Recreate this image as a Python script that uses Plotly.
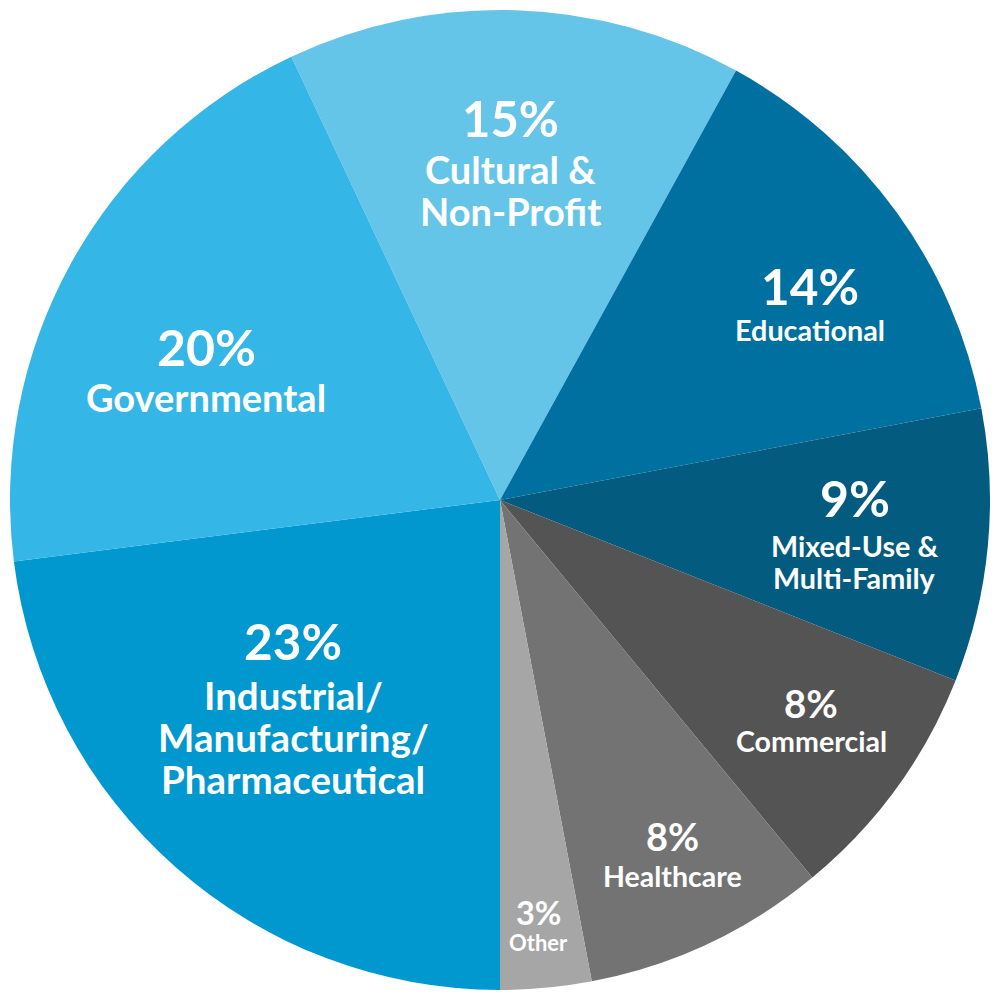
import math
import plotly.graph_objects as go

# ---- data ----
categories = ["Cultural &<br>Non-Profit", "Educational", "Mixed-Use &<br>Multi-Family",
              "Commercial", "Healthcare", "Other",
              "Industrial/<br>Manufacturing/<br>Pharmaceutical", "Governmental"]
values = [15, 14, 9, 8, 8, 3, 23, 20]
pct_labels = ["15%", "14%", "9%", "8%", "8%", "3%", "23%", "20%"]

# ---- style ----
colors = ["#64c5e8", "#0070a0", "#035b80", "#545454", "#737373", "#a6a6a6", "#0098ce", "#34b6e6"]
rotation = -25.2
pct_sizes = [49, 49.5, 50, 38.5, 38, 32.5, 49.5, 50]
name_sizes = [38, 28.8, 28.7, 28.6, 28.5, 22, 38.5, 38]
label_radius = [0.78, 0.769, 0.724, 0.758, 0.771, 0.845, 0.511, 0.676]   # radius of % line centre
angle_nudge = [-0.3, 1.4, -5.7, -2.9, -2.0, 0.0, 14.3, -1.3]
pct_gap = [51, 44, 48, 38, 40, 30, 54, 50]        # px from % centre to first name line
line_step = [42, 0, 32, 0, 0, 0, 42, 0]           # px between name lines
FONT = "Lato"

fig = go.Figure(go.Pie(
    labels=categories, values=values, sort=False, direction="clockwise",
    rotation=rotation, marker=dict(colors=colors, line=dict(width=0)),
    textinfo="none", hoverinfo="label+percent", showlegend=False,
))

W = H = 1000
PLOT = 980           # plot area size
R = PLOT / 2
total = sum(values)


def txt(dx, dy, text, size):
    return dict(x=0.5 + dx / PLOT, y=0.5 - dy / PLOT, xref="paper", yref="paper",
                text=text, showarrow=False, xanchor="center", yanchor="middle",
                font=dict(family=FONT, size=size, color="white", weight="bold"))


ann = []
cum = 0
for i, v in enumerate(values):
    mid = rotation + (cum + v / 2) / total * 360 + angle_nudge[i]
    cum += v
    th = math.radians(mid)
    r = label_radius[i] * R
    dx = r * math.sin(th)
    dy = -r * math.cos(th)
    ann.append(txt(dx, dy, pct_labels[i], pct_sizes[i]))
    for j, line in enumerate(categories[i].split("<br>")):
        ann.append(txt(dx, dy + pct_gap[i] + j * line_step[i], line, name_sizes[i]))

# page has an 8px body margin: offset the plot area so the pie sits centred on the page
fig.update_layout(
    width=W, height=H, margin=dict(l=2, r=18, t=2, b=18),
    paper_bgcolor="white", plot_bgcolor="white", annotations=ann,
)
fig.write_html("out.html")
